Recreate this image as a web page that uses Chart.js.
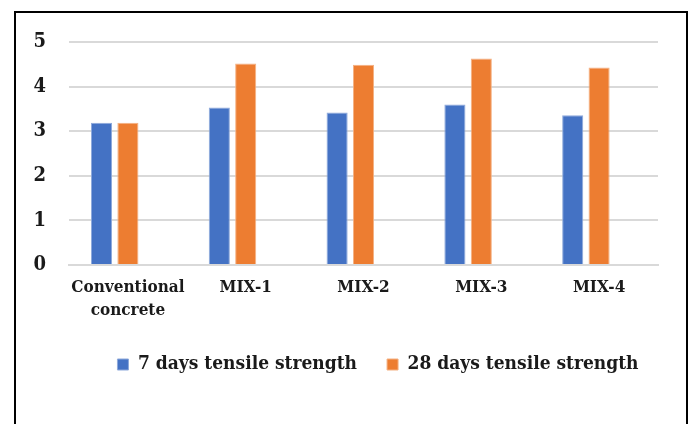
<!DOCTYPE html>
<html>
<head>
<meta charset="utf-8">
<script src="https://cdn.jsdelivr.net/npm/chart.js@4.4.1/dist/chart.umd.min.js"></script>
<style>
    body { margin: 0; background: #ffffff; }
    #wrap { position: relative; width: 693px; height: 424px; overflow: hidden; }
    #frame { position: absolute; left: 14px; top: 11px; width: 670px; height: 430px; border: 2px solid #000000; }
    canvas { position: absolute; left: 0; top: 0; }
</style>
</head>
<body>
<div id="wrap">
    <div id="frame"></div>
    <canvas id="chart" width="693" height="424"></canvas>
</div>
<script>
const categories = [["Conventional", "concrete"], "MIX-1", "MIX-2", "MIX-3", "MIX-4"];
const days7 = [3.19, 3.53, 3.42, 3.60, 3.36];
const days28 = [3.19, 4.52, 4.49, 4.63, 4.43];
// the sheet had a third, empty column: it keeps its slot, so the bars sit left of the label
const emptySeries = [null, null, null, null, null];
const yTicks = [0, 1, 2, 3, 4, 5];

const fontFace = "'DejaVu Serif Condensed', 'DejaVu Serif', serif";
const textColor = '#1a1a1a';

// legend in the sheet is centred a bit right of the canvas middle
const shiftLegend = {
    id: 'shiftLegend',
    afterLayout(chart)
    {
        chart.legend.left = 40;
        chart.legend.right = 716;
    }
};

const chart = new Chart('chart', {
    type: 'bar',
    data: {
        labels: categories,
        datasets: [
            {
                label: '7 days tensile strength',
                data: days7,
                backgroundColor: '#4472C4',
                borderColor: '#8EA9DB',
                borderWidth: 1
            },
            {
                label: '28 days tensile strength',
                data: days28,
                backgroundColor: '#ED7D31',
                borderColor: '#F4B183',
                borderWidth: 1
            },
            {
                label: '',
                data: emptySeries,
                backgroundColor: '#A5A5A5'
            }
        ]
    },
    plugins: [shiftLegend],
    options: {
        responsive: false,
        animation: false,
        events: [],
        categoryPercentage: 0.672,
        barPercentage: 0.8,
        layout: {
            padding: { left: 0, right: 35, top: 42, bottom: 40 }
        },
        plugins: {
            tooltip: { enabled: false },
            legend: {
                position: 'bottom',
                labels: {
                    filter: (item) => item.text !== '',
                    boxWidth: 11,
                    boxHeight: 11,
                    padding: 30,
                    color: textColor,
                    font: { family: fontFace, size: 19, weight: 'bold' }
                }
            }
        },
        scales: {
            x: {
                grid: { display: false, drawTicks: false },
                border: { color: '#d9d9d9', width: 2 },
                ticks: {
                    padding: 12,
                    maxRotation: 0,
                    autoSkip: false,
                    color: textColor,
                    font: { family: fontFace, size: 17, weight: 'bold', lineHeight: 1.3 }
                },
                afterFit: (axis) => { axis.height = 60; }
            },
            y: {
                min: 0,
                max: 5,
                afterBuildTicks: (axis) => { axis.ticks = yTicks.map((v) => ({ value: v })); },
                grid: { color: '#d9d9d9', lineWidth: 2, drawTicks: false },
                border: { display: false },
                ticks: {
                    padding: 23,
                    color: textColor,
                    font: { family: fontFace, size: 20, weight: 'bold' }
                },
                afterFit: (axis) => { axis.width = 69; }
            }
        }
    }
});
</script>
</body>
</html>
